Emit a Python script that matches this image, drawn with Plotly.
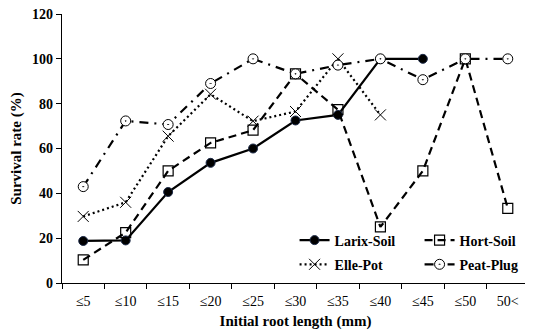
import plotly.graph_objects as go

categories = ["≤5", "≤10", "≤15", "≤20", "≤25", "≤30", "≤35", "≤40", "≤45", "≤50", "50<"]
larix_soil = [18.75, 19, 40.6, 53.6, 60, 72.5, 75, 100, 100, None, None]
hort_soil = [10.3, 22.5, 50, 62.5, 68.2, 93.3, 77.3, 25, 50, 100, 33.3]
elle_pot = [29.7, 36, 65.5, 84.2, 72.2, 76.5, 100, 75, None, None, None]
peat_plug = [43, 72.3, 70.7, 89, 100, 93.3, 97.2, 100, 90.7, 100, 100]
y_ticks = [0, 20, 40, 60, 80, 100, 120]

FONT = "Times New Roman, Liberation Serif, Tinos, serif"

fig = go.Figure()

fig.add_trace(go.Scatter(
    x=categories, y=larix_soil, name="Larix-Soil", mode="lines+markers",
    line=dict(color="black", width=2.2),
    marker=dict(symbol="circle", size=9, color="black", line=dict(color="#1c2a48", width=1)),
    legend="legend",
))
fig.add_trace(go.Scatter(
    x=categories, y=hort_soil, name="Hort-Soil", mode="lines+markers",
    line=dict(color="black", width=2.2, dash="8px,5px"),
    marker=dict(symbol="square-open", size=10, color="black", line=dict(width=1.2)),
    legend="legend",
))
fig.add_trace(go.Scatter(
    x=categories, y=elle_pot, name="Elle-Pot", mode="lines+markers",
    line=dict(color="black", width=2.2, dash="2px,3px"),
    marker=dict(symbol="x-thin", size=11, color="black", line=dict(color="black", width=1)),
    legend="legend2",
))
fig.add_trace(go.Scatter(
    x=categories, y=peat_plug, name="Peat-Plug", mode="lines+markers",
    line=dict(color="black", width=2.2, dash="9px,6px,2px,6px"),
    marker=dict(symbol="circle-dot", size=10, color="white", line=dict(color="black", width=1)),
    legend="legend2",
))

legend_common = dict(
    orientation="h", xanchor="left", yanchor="middle",
    font=dict(family=FONT, size=14, color="black", weight="bold"),
    bgcolor="rgba(0,0,0,0)", entrywidth=80, entrywidthmode="pixels",
    itemwidth=30, tracegroupgap=0,
)

# page body has an 8px default margin: figure is sized/placed to compensate
fig.update_layout(
    width=525, height=322,
    margin=dict(l=54, r=4, t=6, b=47, autoexpand=False),
    paper_bgcolor="white", plot_bgcolor="white",
    font=dict(family=FONT, color="black"),
    showlegend=True,
    legend=dict(x=0.498, y=0.158, **legend_common),
    legend2=dict(x=0.498, y=0.068, **legend_common),
    xaxis=dict(
        type="category", range=[-0.5, 10.5],
        showline=True, linecolor="black", linewidth=1.2,
        ticks="outside", tickson="boundaries", ticklen=5, tickcolor="black", tickwidth=1.2,
        tickfont=dict(family=FONT, size=14, color="black"), ticklabelstandoff=5,
        showgrid=False, zeroline=False,
        title=dict(text="Initial root length (mm)", font=dict(family=FONT, size=15, weight="bold"), standoff=8),
    ),
    yaxis=dict(
        range=[0, 120], tickmode="array", tickvals=y_ticks,
        showline=True, linecolor="black", linewidth=1.2,
        ticks="outside", ticklen=5, tickcolor="black", tickwidth=1.2,
        tickfont=dict(family=FONT, size=14, color="black", weight="bold"),
        ticklabeloverflow="allow",
        showgrid=False, zeroline=False,
        title=dict(text="Survival rate (%)", font=dict(family=FONT, size=15, weight="bold"), standoff=10),
    ),
)

fig.write_html("out.html")
